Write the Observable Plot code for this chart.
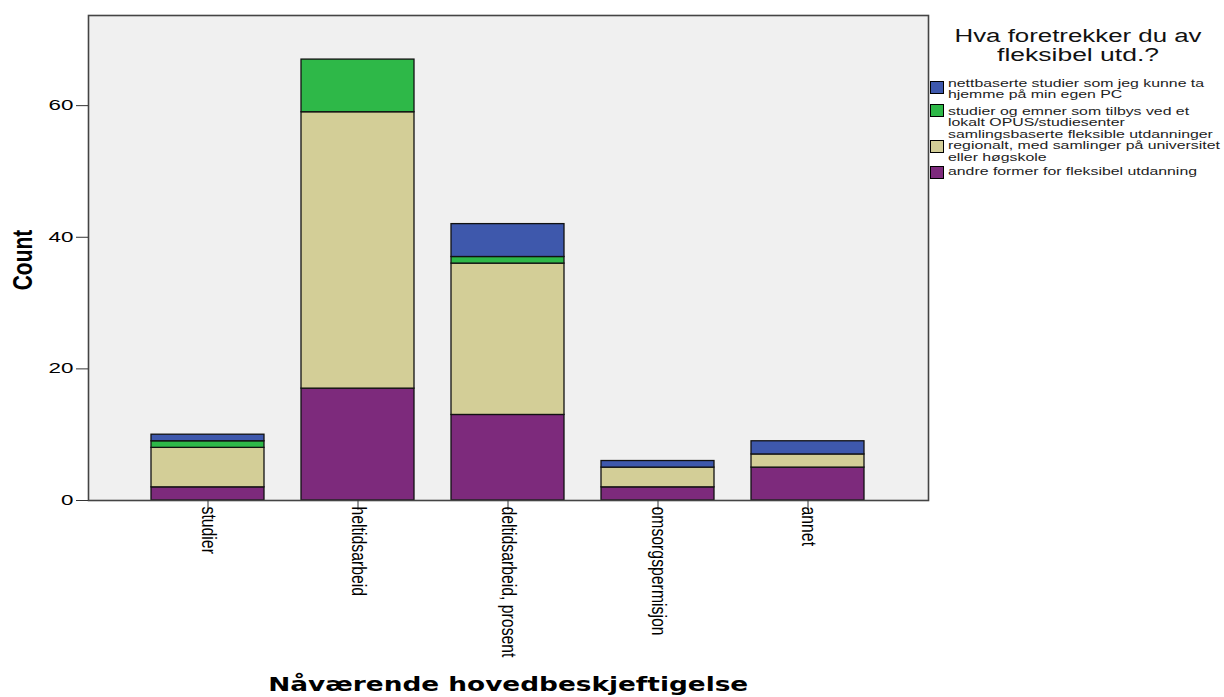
<!DOCTYPE html>
<html>
<head>
<meta charset="utf-8">
<script src="https://cdn.jsdelivr.net/npm/d3@7"></script>
<script src="https://cdn.jsdelivr.net/npm/@observablehq/plot@0.6"></script>
<style>
  html, body { margin: 0; padding: 0; background: #fff; }
  #wrap { position: relative; width: 1224px; height: 697px; overflow: hidden; font-family: "Liberation Sans", Arial, sans-serif; }
  #wrap svg { position: absolute; left: 0; top: 0; }
  .ov { position: absolute; white-space: nowrap; color: #000; }
  #xtitle { font-family: "DejaVu Sans", sans-serif; font-weight: bold; font-size: 20px; top: 672px; transform-origin: center center; }
  #ytitle { font-weight: bold; font-size: 21px; transform-origin: center center; }
  .ltitle { font-size: 18px; color: #111; transform-origin: center center; }
  .sw { position: absolute; left: 0; width: 12px; height: 11px; border: 1px solid #000; }
  .lt { position: absolute; left: 18px; font-size: 10.5px; line-height: 11.3px; color: #222; white-space: nowrap; transform-origin: left top; }
</style>
</head>
<body>
<div id="wrap"></div>
<script>
// ---- data ----
const categories = ["studier", "heltidsarbeid", "deltidsarbeid, prosent", "omsorgspermisjon", "annet"];
const seriesNames = [
  "andre former for fleksibel utdanning",
  "samlingsbaserte fleksible utdanninger regionalt, med samlinger på universitet eller høgskole",
  "studier og emner som tilbys ved et lokalt OPUS/studiesenter",
  "nettbaserte studier som jeg kunne ta hjemme på min egen PC"
];
const andreFormer = [2, 17, 13, 2, 5];
const samlingsbaserte = [6, 42, 23, 3, 2];
const lokaltOpus = [1, 8, 1, 0, 0];
const nettbaserte = [1, 0, 5, 1, 2];
const seriesColors = ["#7d2a7c", "#d3ce97", "#2eb848", "#3e58ac"];
const yTicks = [0, 20, 40, 60];
const legendLines = [
  ["nettbaserte studier som jeg kunne ta", "hjemme på min egen PC"],
  ["studier og emner som tilbys ved et", "lokalt OPUS/studiesenter"],
  ["samlingsbaserte fleksible utdanninger", "regionalt, med samlinger på universitet", "eller høgskole"],
  ["andre former for fleksibel utdanning"]
];

const seriesValues = [andreFormer, samlingsbaserte, lokaltOpus, nettbaserte];
const rows = [];
categories.forEach((c, i) => {
  seriesValues.forEach((vals, s) => {
    if (vals[i] > 0) rows.push({cat: c, series: seriesNames[s], value: vals[i]});
  });
});

const chart = Plot.plot({
  width: 1224,
  height: 697,
  marginLeft: 88,
  marginRight: 296,
  marginTop: 15,
  marginBottom: 197,
  style: {background: "transparent", fontFamily: "'Liberation Sans', Arial, sans-serif", color: "#000"},
  x: {domain: categories, paddingInner: 0.245, paddingOuter: 0.404, label: null},
  y: {domain: [0, 73.7], label: null},
  color: {domain: seriesNames, range: seriesColors},
  marks: [
    Plot.frame({fill: "#f0f0f0", stroke: "none"}),
    Plot.barY(rows, {x: "cat", y: "value", fill: "series", stroke: "#111", strokeWidth: 1.3}),
    Plot.frame({stroke: "#444", strokeWidth: 1.6}),
    Plot.axisY({ticks: yTicks, tickSize: 12, tickPadding: 3, fontSize: 14, label: null, stroke: "#333"}),
    Plot.axisX({tickSize: 10, tickPadding: -4, tickRotate: 90, fontSize: 15.8, label: null, stroke: "#333"})
  ]
});
const wrap = document.getElementById("wrap");
wrap.appendChild(chart);

// stretch tick labels horizontally (reference is horizontally stretched)
const tickStrings = yTicks.map(String);
chart.querySelectorAll("text").forEach(t => {
  const s = t.textContent.trim();
  const tr = t.getAttribute("transform") || "";
  if (tickStrings.includes(s)) {
    const b = t.getBBox();
    const rx = b.x + b.width;
    t.setAttribute("transform", `${tr} translate(${rx},0) scale(1.6,1) translate(${-rx},0)`);
  } else if (categories.includes(s)) {
    const b = t.getBBox();
    const cy = b.y + b.height / 2;
    t.setAttribute("transform", `${tr} translate(0,${cy}) scale(1,1.25) translate(0,${-cy})`);
  }
});

// x title
const xt = document.createElement("div");
xt.className = "ov"; xt.id = "xtitle";
xt.textContent = "Nåværende hovedbeskjeftigelse";
wrap.appendChild(xt);
{
  const w = xt.getBoundingClientRect().width;
  xt.style.left = (508 - w / 2) + "px";
  xt.style.transform = `scaleX(${480 / w})`;
}

// y title
const yt = document.createElement("div");
yt.className = "ov"; yt.id = "ytitle";
yt.textContent = "Count";
wrap.appendChild(yt);
{
  const r = yt.getBoundingClientRect();
  yt.style.left = (23 - r.width / 2) + "px";
  yt.style.top = (260 - r.height / 2) + "px";
  yt.style.transform = "rotate(-90deg) scaleY(1.3)";
}

// legend title
[["Hva foretrekker du av", 36, 247], ["fleksibel utd.?", 55, 162]].forEach(([txt, cy, tw]) => {
  const d = document.createElement("div");
  d.className = "ov ltitle";
  d.textContent = txt;
  wrap.appendChild(d);
  const r = d.getBoundingClientRect();
  d.style.left = (1078 - r.width / 2) + "px";
  d.style.top = (cy - r.height / 2) + "px";
  d.style.transform = `scaleX(${tw / r.width})`;
});

// legend items
const itemTops = [78, 106, 129, 166];
const swTops = [81, 104, 140, 166];
legendLines.forEach((lines, i) => {
  const sw = document.createElement("div");
  sw.className = "sw";
  sw.style.left = "930px";
  sw.style.top = swTops[i] + "px";
  sw.style.background = seriesColors[3 - i];
  wrap.appendChild(sw);
  const t = document.createElement("div");
  t.className = "lt";
  t.style.left = "948px";
  t.style.top = itemTops[i] + "px";
  t.innerHTML = lines.join("<br>");
  wrap.appendChild(t);
});
const items = wrap.querySelectorAll(".lt");
const last = items[items.length - 1];
const f = 249 / last.getBoundingClientRect().width;
items.forEach(el => el.style.transform = `scaleX(${f})`);
</script>
</body>
</html>
